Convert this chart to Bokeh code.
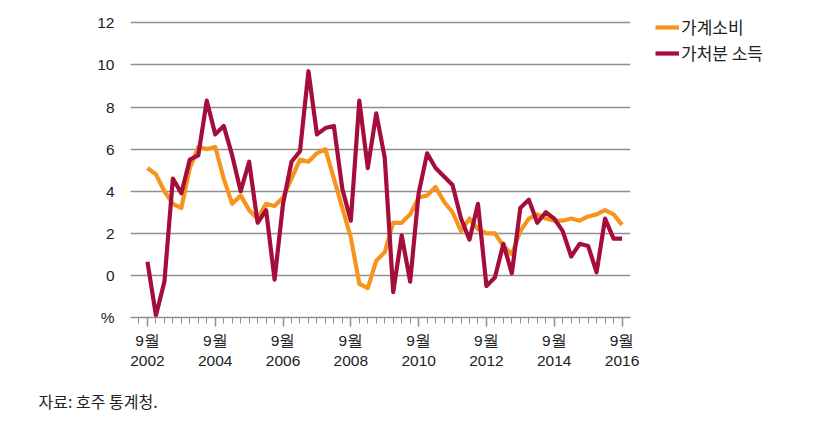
from bokeh.plotting import figure
from bokeh.models import FixedTicker, Legend, LegendItem, Title, Range1d
from bokeh.embed import file_html
from bokeh.resources import INLINE

# Quarterly periods, Sep 2002 .. Sep 2016
quarters = [f"{y}-{m:02d}" for y in range(2002, 2017) for m in (3, 6, 9, 12)][2:-1]

# 가계소비 (household consumption), % y/y
consumption = [5.1, 4.8, 4.0, 3.4, 3.2, 5.1, 6.1, 6.0, 6.1, 4.6,
               3.4, 3.8, 3.1, 2.7, 3.4, 3.3, 3.7, 4.6, 5.5, 5.4,
               5.8, 6.0, 4.6, 3.2, 1.8, -0.4, -0.6, 0.7, 1.1, 2.5,
               2.5, 2.9, 3.7, 3.8, 4.2, 3.5, 3.0, 2.1, 2.7, 2.2,
               2.0, 2.0, 1.4, 1.0, 2.1, 2.7, 2.9, 2.7, 2.6, 2.6,
               2.7, 2.6, 2.8, 2.9, 3.1, 2.9, 2.4]

# 가처분 소득 (disposable income), % y/y
income = [0.65, -1.9, -0.3, 4.6, 3.9, 5.5, 5.7, 8.3, 6.7, 7.1,
          5.7, 4.0, 5.4, 2.5, 3.1, -0.2, 3.4, 5.4, 5.9, 9.7,
          6.7, 7.0, 7.1, 4.1, 2.6, 8.3, 5.1, 7.7, 5.6, -0.8,
          1.9, -0.3, 3.9, 5.8, 5.1, 4.7, 4.3, 2.7, 1.7, 3.4,
          -0.5, -0.1, 1.5, 0.1, 3.2, 3.6, 2.5, 3.0, 2.7, 2.1,
          0.9, 1.5, 1.4, 0.15, 2.7, 1.75, 1.75]

tick_years = ["2002", "2004", "2006", "2008", "2010", "2012", "2014", "2016"]
tick_labels = ["9월\n" + y for y in tick_years]
y_ticks = [-2, 0, 2, 4, 6, 8, 10, 12]
y_tick_labels = ["%", "0", "2", "4", "6", "8", "10", "12"]

x = list(range(len(quarters)))
x_tick_pos = [quarters.index(y + "-09") for y in tick_years]

ORANGE = "#F7941E"
MAROON = "#A50D3B"
GRID = "#8f8f8f"
TEXT = "#222222"

p = figure(frame_width=500, frame_height=301,
           x_range=Range1d(-2, 57), y_range=Range1d(-2, 12.3),
           output_backend="svg", toolbar_location=None,
           min_border_left=130, min_border_top=16, min_border_right=180,
           min_border_bottom=20)
p.outline_line_color = None
p.background_fill_color = "white"
p.border_fill_color = "white"

p.xgrid.visible = False
p.ygrid.ticker = FixedTicker(ticks=[t for t in y_ticks if t >= 0])
p.ygrid.grid_line_color = GRID
p.ygrid.grid_line_width = 1.5

p.yaxis.ticker = FixedTicker(ticks=y_ticks)
p.yaxis.major_label_overrides = dict(zip(y_ticks, y_tick_labels))
p.yaxis.axis_line_color = None
p.yaxis.major_tick_line_color = None
p.yaxis.minor_tick_line_color = None
p.yaxis.major_label_standoff = 10
p.yaxis.major_label_text_font = "Liberation Sans"
p.yaxis.major_label_text_font_size = "15.5px"
p.yaxis.major_label_text_color = TEXT

p.xaxis.ticker = FixedTicker(ticks=x_tick_pos, minor_ticks=list(range(-1, len(quarters))))
p.xaxis.major_label_overrides = dict(zip(x_tick_pos, tick_labels))
p.xaxis.axis_line_color = GRID
p.xaxis.axis_line_width = 1.5
p.xaxis.major_tick_line_color = GRID
p.xaxis.major_tick_line_width = 1.5
p.xaxis.major_tick_in = 0
p.xaxis.major_tick_out = 9
p.xaxis.minor_tick_line_color = GRID
p.xaxis.minor_tick_line_width = 1
p.xaxis.minor_tick_in = 0
p.xaxis.minor_tick_out = 6
p.xaxis.major_label_standoff = 5
p.xaxis.major_label_text_font = "Liberation Sans"
p.xaxis.major_label_text_font_size = "15.5px"
p.xaxis.major_label_text_color = TEXT

r1 = p.line(x, consumption, line_color=ORANGE, line_width=4.2, line_join="round")
r2 = p.line(x, income, line_color=MAROON, line_width=4.2, line_join="round")

legend = Legend(items=[LegendItem(label="가계소비", renderers=[r1]),
                       LegendItem(label="가처분 소득", renderers=[r2])],
                location=(25, 252), margin=0, padding=0,
                glyph_width=24, glyph_height=20, label_height=20,
                spacing=1, label_standoff=2,
                border_line_color=None, background_fill_alpha=0,
                label_text_font="Noto Sans CJK KR",
                label_text_font_size="17px", label_text_color=TEXT)
p.add_layout(legend, "right")

p.add_layout(Title(text="자료: 호주 통계청.", align="left", offset=-92,
                   text_font="Noto Sans CJK KR", text_font_size="16px",
                   text_font_style="normal", text_color=TEXT, standoff=30), "below")

open("out.html", "w").write(file_html(p, INLINE))
